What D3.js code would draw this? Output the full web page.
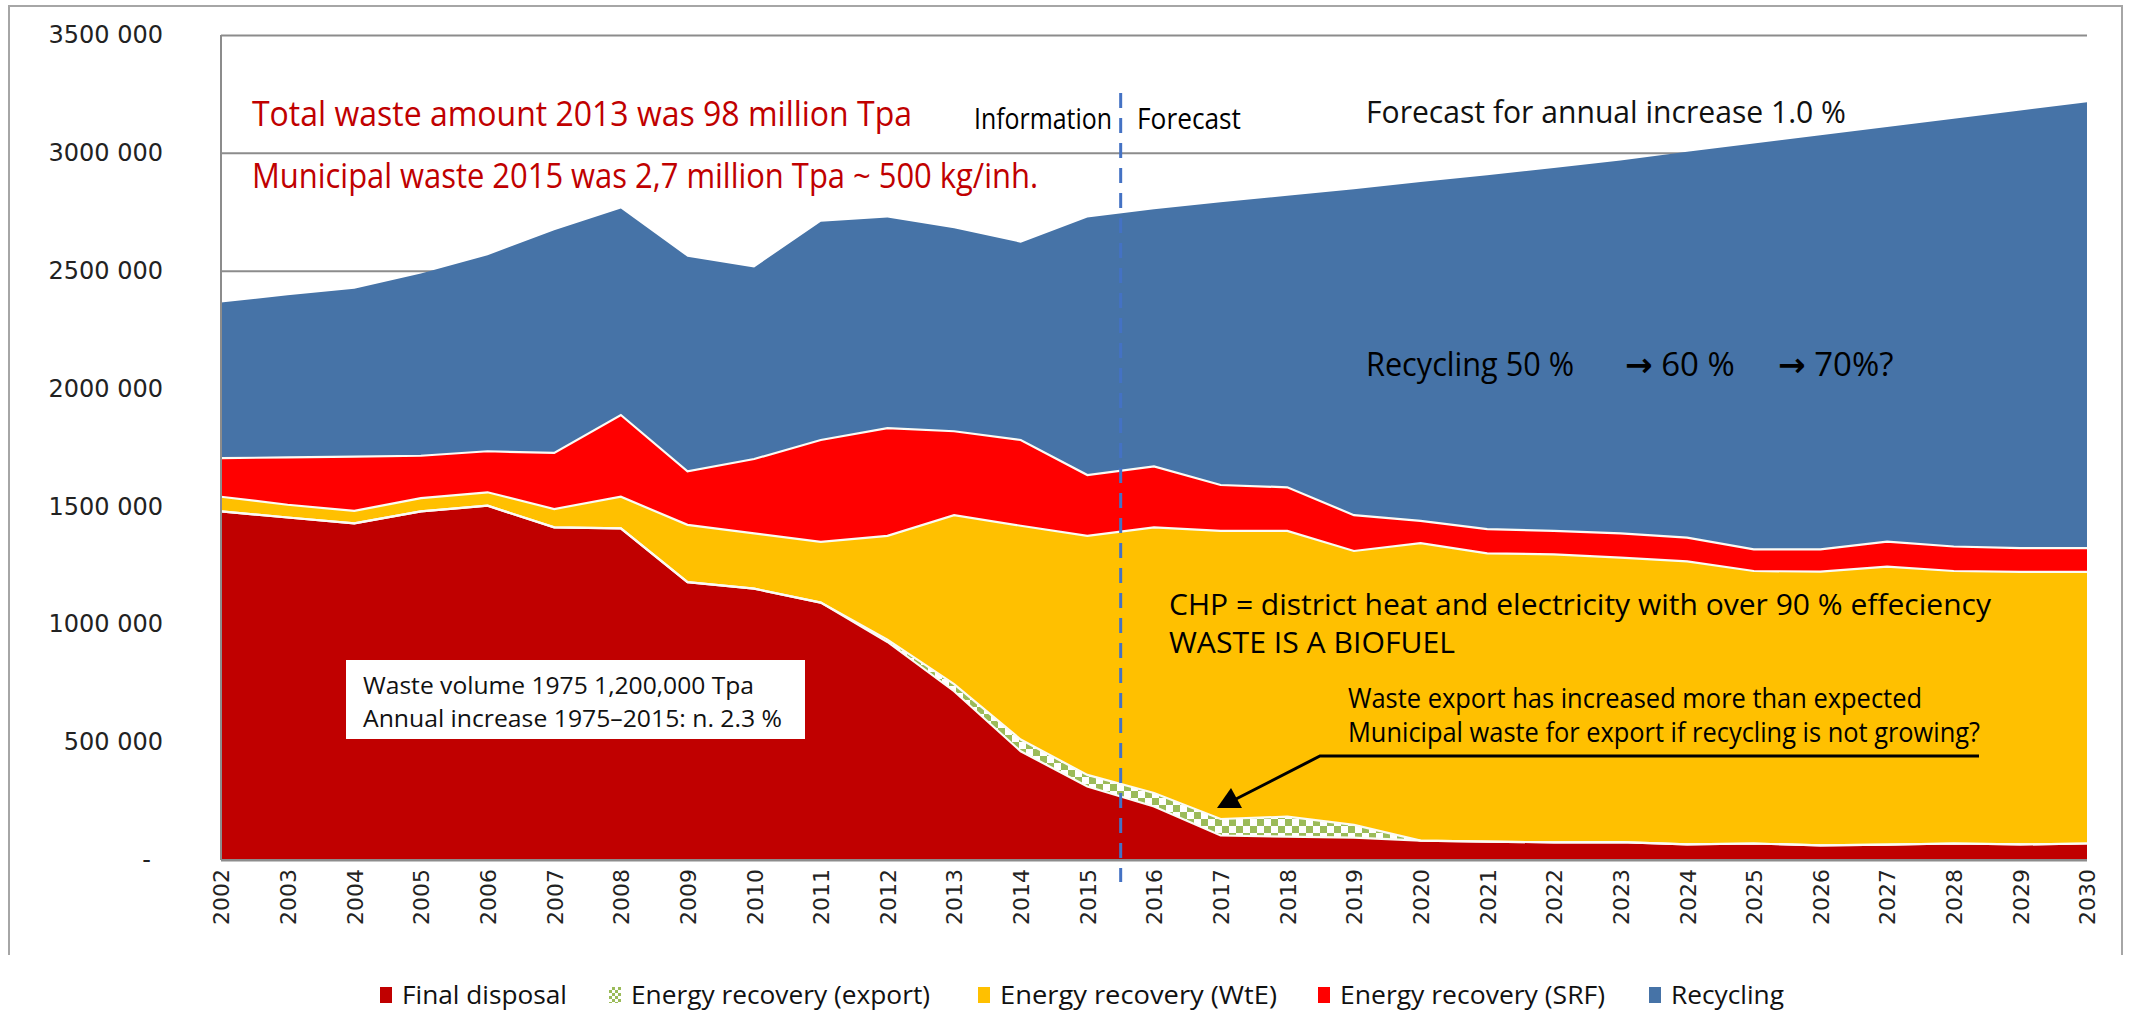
<!DOCTYPE html>
<html>
<head>
<meta charset="utf-8">
<script src="https://cdn.jsdelivr.net/npm/d3@7/dist/d3.min.js"></script>
<style>
  body { margin: 0; background: #fff; }
  text { font-family: "Open Sans", "DejaVu Sans", sans-serif; }
  .axis text { font-family: "DejaVu Sans", sans-serif; fill: #222; }
</style>
</head>
<body>
<div id="vis"></div>
<script>
// values (tonnes per year)
var years = [2002, 2003, 2004, 2005, 2006, 2007, 2008, 2009, 2010, 2011, 2012, 2013, 2014, 2015,
             2016, 2017, 2018, 2019, 2020, 2021, 2022, 2023, 2024, 2025, 2026, 2027, 2028, 2029, 2030];
var finalDisposal = [1479000, 1453000, 1428000, 1479000, 1503000, 1411000, 1407000, 1179000, 1151000, 1092000,
                     925000, 716000, 461000, 312000, 227000, 104000, 99000, 95000, 82000, 78000,
                     75000, 76000, 66000, 70000, 62000, 65000, 70000, 66000, 70000];
var energyExport = [0, 0, 0, 0, 0, 0, 0, 0, 0, 0,
                    10000, 30000, 50000, 49000, 57000, 70000, 85000, 54000, 0, 0,
                    0, 0, 0, 0, 0, 0, 0, 0, 0];
var energyWtE = [62000, 54000, 53000, 56000, 57000, 78000, 134000, 243000, 235000, 258000,
                 440000, 717000, 907000, 1014000, 1127000, 1222000, 1212000, 1162000, 1262000, 1223000,
                 1222000, 1207000, 1201000, 1156000, 1161000, 1180000, 1156000, 1156000, 1152000];
var energySRF = [164000, 201000, 230000, 180000, 174000, 238000, 347000, 227000, 315000, 432000,
                 457000, 356000, 364000, 258000, 259000, 195000, 185000, 152000, 95000, 103000,
                 99000, 103000, 101000, 92000, 95000, 106000, 104000, 101000, 101000];
var recycling = [660000, 688000, 713000, 773000, 832000, 945000, 876000, 910000, 813000, 926000,
                 894000, 861000, 837000, 1093000, 1091000, 1199000, 1237000, 1383000, 1437000, 1501000,
                 1540000, 1582000, 1637000, 1722000, 1757000, 1759000, 1815000, 1857000, 1892000];

var seriesKeys = ['final', 'export', 'wte', 'srf', 'recycling'];
var seriesNames = ['Final disposal', 'Energy recovery (export)', 'Energy recovery (WtE)', 'Energy recovery (SRF)', 'Recycling'];
var seriesColors = ['#C00000', 'url(#chk)', '#FFC000', '#FF0000', '#4673A7'];
var yTicks = [0, 500000, 1000000, 1500000, 2000000, 2500000, 3000000, 3500000];
var forecastStart = 2015.5;

var width = 2129;
var height = 1011;
var margin = { top: 35, right: 42, bottom: 151, left: 221 };
var drawWidth = width - margin.left - margin.right;
var drawHeight = height - margin.top - margin.bottom;

var svg = d3.select('#vis').append('svg')
    .attr('width', width)
    .attr('height', height);

// checker pattern for the export band
var defs = svg.append('defs');
var pat = defs.append('pattern')
    .attr('id', 'chk')
    .attr('patternUnits', 'userSpaceOnUse')
    .attr('width', 14).attr('height', 14);
pat.append('rect').attr('width', 14).attr('height', 14).attr('fill', '#fff');
pat.append('rect').attr('width', 7).attr('height', 7).attr('fill', '#9BBB59');
pat.append('rect').attr('x', 7).attr('y', 7).attr('width', 7).attr('height', 7).attr('fill', '#9BBB59');

var pat2 = defs.append('pattern')
    .attr('id', 'chkSmall')
    .attr('patternUnits', 'userSpaceOnUse')
    .attr('width', 6).attr('height', 6);
pat2.append('rect').attr('width', 6).attr('height', 6).attr('fill', '#fff');
pat2.append('rect').attr('width', 3).attr('height', 3).attr('fill', '#9BBB59');
pat2.append('rect').attr('x', 3).attr('y', 3).attr('width', 3).attr('height', 3).attr('fill', '#9BBB59');

// outer frame
svg.append('path')
    .attr('d', 'M9,955 V6 H2122 V955')
    .attr('fill', 'none')
    .attr('stroke', '#a6a6a6')
    .attr('stroke-width', 2);

var g = svg.append('g')
    .attr('transform', 'translate(' + margin.left + ',' + margin.top + ')');

var xScale = d3.scaleLinear().domain([2002, 2030]).range([0, drawWidth]);
var yScale = d3.scaleLinear().domain([0, 3500000]).range([drawHeight, 0]);

// gridlines behind the areas
var grid = g.append('g')
    .call(d3.axisLeft(yScale).tickValues(yTicks).tickSize(-drawWidth).tickFormat(''));
grid.select('.domain').remove();
grid.selectAll('line').attr('stroke', '#8c8c8c').attr('stroke-width', 2);

////////////////////////////////////stacked areas////////////////////////////////////
var data = years.map(function(yr, i) {
    return {
        year: yr,
        final: finalDisposal[i],
        export: energyExport[i],
        wte: energyWtE[i],
        srf: energySRF[i],
        recycling: recycling[i]
    };
});

var stack = d3.stack().keys(seriesKeys);
var layers = stack(data);

var area = d3.area()
    .x(function(d) { return xScale(d.data.year); })
    .y0(function(d) { return yScale(d[0]); })
    .y1(function(d) { return yScale(d[1]); });

var topLine = d3.line()
    .x(function(d) { return xScale(d.data.year); })
    .y(function(d) { return yScale(d[1]); });

g.selectAll('.layer').data(layers).enter().append('path')
    .attr('class', 'layer')
    .attr('d', area)
    .attr('fill', function(d, i) { return seriesColors[i]; });

g.selectAll('.edge').data(layers.slice(0, 4)).enter().append('path')
    .attr('class', 'edge')
    .attr('d', topLine)
    .attr('fill', 'none')
    .attr('stroke', '#fbfbf5')
    .attr('stroke-width', 2.2);

// plot area left and bottom lines
g.append('line').attr('x1', 0).attr('x2', 0).attr('y1', 0).attr('y2', drawHeight)
    .attr('stroke', '#8c8c8c').attr('stroke-width', 2);
g.append('line').attr('x1', 0).attr('x2', drawWidth).attr('y1', drawHeight).attr('y2', drawHeight)
    .attr('stroke', '#8c8c8c').attr('stroke-width', 2);

// y axis labels
var yAxis = g.append('g').attr('class', 'axis')
    .call(d3.axisLeft(yScale).tickValues(yTicks).tickSize(0).tickPadding(58)
        .tickFormat(function(d) {
            if (d === 0) return '-';
            var s = String(d);
            return s.slice(0, -3) + ' ' + s.slice(-3);
        }));
yAxis.select('.domain').remove();
yAxis.selectAll('text').style('font-size', '24px');
yAxis.selectAll('.tick').filter(function(d) { return d === 0; }).select('text').attr('dx', -12);

// x axis labels (rotated)
var xAxis = g.append('g').attr('class', 'axis')
    .attr('transform', 'translate(0,' + drawHeight + ')')
    .call(d3.axisBottom(xScale).tickValues(years).tickSize(0).tickFormat(d3.format('d')));
xAxis.select('.domain').remove();
xAxis.selectAll('text')
    .style('font-size', '22px')
    .attr('text-anchor', 'end')
    .attr('transform', 'rotate(-90)')
    .attr('x', -9)
    .attr('y', 0)
    .attr('dy', '0.36em');

// information / forecast divider
g.append('line')
    .attr('x1', xScale(forecastStart)).attr('x2', xScale(forecastStart))
    .attr('y1', 58).attr('y2', drawHeight + 22)
    .attr('stroke', '#4472C4')
    .attr('stroke-width', 3)
    .attr('stroke-dasharray', '15,10');

////////////////////////////////////annotations////////////////////////////////////
function note(txt, x, yb, size, len, color, weight) {
    var t = svg.append('text')
        .attr('x', x).attr('y', yb)
        .style('font-size', size + 'px')
        .style('fill', color || '#000')
        .style('font-weight', weight || 400)
        .text(txt);
    if (len) t.attr('textLength', len).attr('lengthAdjust', 'spacingAndGlyphs');
    return t;
}

note('Total waste amount 2013 was 98 million Tpa', 252, 126, 35, 660, '#C00000');
note('Municipal waste 2015 was 2,7 million Tpa ~ 500 kg/inh.', 252, 188, 35, 786, '#C00000');
note('Information', 974, 129, 29, 138, '#000');
note('Forecast', 1137, 129, 29, 104, '#000');
note('Forecast for annual increase 1.0 %', 1366, 123, 31, 480, '#111');
note('Recycling 50 %', 1366, 376, 33, 208, '#000');

// the recycling steps: bold arrow, plain number
var steps = [['\u2192', ' 60 %', 1625], ['\u2192', ' 70%?', 1778]];
steps.forEach(function(s) {
    var t = svg.append('text')
        .attr('x', s[2]).attr('y', 376)
        .style('font-size', '33px');
    t.append('tspan').style('font-weight', 700).text(s[0]);
    t.append('tspan').text(s[1]);
});

note('CHP = district heat and electricity with over 90 % effeciency', 1169, 615, 30, 822, '#000', 500);
note('WASTE IS A BIOFUEL', 1169, 653, 30, 286, '#000', 500);
note('Waste export has increased more than expected', 1348, 708, 28, 574, '#000', 500);
note('Municipal waste for export if recycling is not growing?', 1348, 742, 28, 632, '#000', 500);

// leader line with arrow
svg.append('path')
    .attr('d', 'M1979,756 H1320 L1236,799')
    .attr('fill', 'none')
    .attr('stroke', '#000')
    .attr('stroke-width', 3);
svg.append('path')
    .attr('d', 'M1231,788 L1217,808 L1242,808 Z')
    .attr('fill', '#000');

// text box over the final disposal area
svg.append('rect')
    .attr('x', 346).attr('y', 660)
    .attr('width', 459).attr('height', 79)
    .attr('fill', '#fff');
note('Waste volume 1975 1,200,000 Tpa', 363, 694, 24, 391, '#111');
note('Annual increase 1975\u20132015: n. 2.3 %', 363, 727, 24, 419, '#111');

////////////////////////////////////legend////////////////////////////////////
var legendX = [380, 609, 978, 1318, 1649];
var legendLen = [165, 299, 277, 265, 113];
var legend = svg.selectAll('.legend').data(seriesNames).enter().append('g')
    .attr('class', 'legend')
    .attr('transform', function(d, i) { return 'translate(' + legendX[i] + ',0)'; });
legend.append('rect')
    .attr('x', 0).attr('y', 987)
    .attr('width', 12).attr('height', 16)
    .attr('fill', function(d, i) { return i === 1 ? 'url(#chkSmall)' : seriesColors[i]; });
legend.append('text')
    .attr('x', 22).attr('y', 1004)
    .style('font-size', '25px')
    .style('fill', '#111')
    .attr('textLength', function(d, i) { return legendLen[i]; })
    .attr('lengthAdjust', 'spacingAndGlyphs')
    .text(function(d) { return d; });
</script>
</body>
</html>
